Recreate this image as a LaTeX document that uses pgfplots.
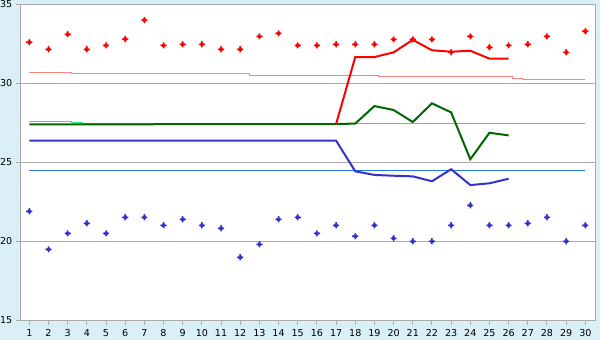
\documentclass[border=0pt]{standalone}
\usepackage{pgfplots}
\pgfplotsset{compat=1.18}
\usepackage{fontspec}
\setmainfont{DejaVu Sans}
\definecolor{bgc}{RGB}{218,239,246}
\definecolor{gridc}{RGB}{170,170,170}
\definecolor{redc}{RGB}{255,0,0}
\definecolor{pinkc}{RGB}{255,128,128}
\definecolor{dgreen}{RGB}{0,102,0}
\definecolor{lgreen}{RGB}{51,221,136}
\definecolor{bluec}{RGB}{51,51,204}
\definecolor{lblue}{RGB}{30,120,230}
\pgfdeclareplotmark{fatplus}{%
  \pgfpathrectangle{\pgfpoint{-1.6bp}{-1.6bp}}{\pgfpoint{3.2bp}{3.2bp}}%
  \pgfpathrectangle{\pgfpoint{-3.1bp}{-0.75bp}}{\pgfpoint{6.2bp}{1.5bp}}%
  \pgfpathrectangle{\pgfpoint{-0.75bp}{-3.1bp}}{\pgfpoint{1.5bp}{6.2bp}}%
  \pgfusepathqfill}
\begin{document}
\begin{tikzpicture}
\fill[bgc] (0,0) rectangle (600bp,340bp);
\useasboundingbox (0,0) rectangle (600bp,340bp);
\begin{axis}[
  at={(20.7bp,19.7bp)}, anchor=south west,
  scale only axis, width=574.6bp, height=316bp,
  xmin=0.55, xmax=30.52, ymin=15, ymax=35,
  axis background/.style={fill=white},
  xtick={1,...,30}, ytick={15,20,25,30,35},
  xtick pos=bottom, ytick pos=left,
  ymajorgrids, grid style={color=gridc, line width=1bp},
  axis line style={gridc, line width=1bp},
  tick style={gridc, line width=1bp},
  tick align=outside, major tick length=4.5bp,
  /pgf/number format/assume math mode=true,
  ticklabel style={font=\fontsize{9.6}{11}\selectfont, text=black},
  xticklabel style={yshift=-1bp},
  yticklabel style={xshift=-0.5bp},
]
% thin limit lines
\addplot[pinkc, line width=1bp] coordinates {(1,30.71) (3.2,30.71) (3.2,30.65) (3.75,30.65) (3.75,30.59) (12.5,30.59) (12.5,30.5) (19.2,30.5) (19.2,30.45) (19.7,30.45) (19.7,30.4) (26.2,30.4) (26.2,30.33) (26.7,30.33) (26.7,30.25) (30,30.25)};
\addplot[lgreen, line width=1bp] coordinates {(1,27.6) (3.2,27.6) (3.2,27.53) (3.75,27.53) (3.75,27.47) (30,27.47)};
\addplot[lblue, line width=1bp] coordinates {(1,24.45) (26.5,24.45) (26.5,24.49) (30,24.49)};
% thick lines
\addplot[dgreen, line width=2bp] coordinates {(1,27.4) (17,27.42) (18,27.45) (19,28.56) (20,28.31) (21,27.55) (22,28.73) (23,28.16) (24,25.19) (25,26.87) (26,26.7)};
\addplot[bluec, line width=2bp] coordinates {(1,26.37) (17,26.37) (18,24.43) (19,24.2) (20,24.15) (21,24.11) (22,23.8) (23,24.56) (24,23.56) (25,23.67) (26,23.96)};
\addplot[redc, line width=2bp] coordinates {(17,27.42) (18,31.66) (19,31.66) (20,31.96) (21,32.75) (22,32.09) (23,32.0) (24,32.06) (25,31.56) (26,31.56)};
% points
\addplot[only marks, mark=fatplus, redc] coordinates {
(1,32.6) (2,32.15) (3,33.1) (4,32.15) (5,32.4) (6,32.8) (7,34.0) (8,32.4) (9,32.47) (10,32.47)
(11,32.15) (12,32.15) (13,32.97) (14,33.16) (15,32.4) (16,32.4) (17,32.47) (18,32.47) (19,32.47) (20,32.78)
(21,32.78) (22,32.78) (23,31.97) (24,32.97) (25,32.28) (26,32.4) (27,32.47) (28,32.97) (29,31.96) (30,33.3)};
\addplot[only marks, mark=fatplus, bluec] coordinates {
(1,21.9) (2,19.49) (3,20.5) (4,21.14) (5,20.5) (6,21.52) (7,21.52) (8,21.01) (9,21.39) (10,21.01)
(11,20.82) (12,18.99) (13,19.81) (14,21.39) (15,21.52) (16,20.5) (17,21.01) (18,20.32) (19,21.01) (20,20.19)
(21,20.0) (22,20.0) (23,21.01) (24,22.28) (25,21.01) (26,21.01) (27,21.14) (28,21.52) (29,20.0) (30,21.01)};
\end{axis}
\end{tikzpicture}
\end{document}
